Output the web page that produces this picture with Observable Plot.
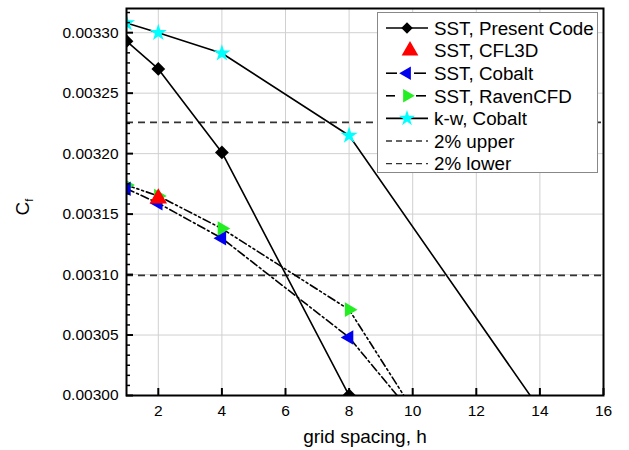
<!DOCTYPE html>
<html><head><meta charset="utf-8">
<script src="https://cdn.jsdelivr.net/npm/d3@7"></script>
<script src="https://cdn.jsdelivr.net/npm/@observablehq/plot@0.6"></script>
<style>
body{margin:0;background:#fff;}
#chart{width:629px;height:450px;}
</style>
</head><body><div id="chart"></div>
<script>
// ---- data ----
const hAll = [1, 2, 4, 8, 16];
const hPresent = [1, 2, 4, 8];
const sstPresent = [0.003293, 0.003270, 0.003201, 0.003000];
const hCFL3D = [2];
const sstCFL3D = [0.003163];
const sstCobalt = [0.003171, 0.003159, 0.003130, 0.003048, 0.002794];
const sstRaven = [0.003174, 0.003165, 0.003138, 0.003071, 0.002741];
const kwCobalt = [0.003308, 0.003300, 0.003283, 0.003215, 0.002913];
const bandUpper = 0.0032258;
const bandLower = 0.0030993;
const xTicks = [2, 4, 6, 8, 10, 12, 14, 16];
const yTicks = [0.00300, 0.00305, 0.00310, 0.00315, 0.00320, 0.00325, 0.00330];
const legendNames = ["SST, Present Code", "SST, CFL3D", "SST, Cobalt", "SST, RavenCFD", "k-w, Cobalt", "2% upper", "2% lower"];
const xLabel = "grid spacing, h";

// ---- build tables ----
const rows = (xs, ys) => xs.map((x, i) => ({x, y: ys[i]}));
const present = rows(hPresent, sstPresent);
const cfl3d = rows(hCFL3D, sstCFL3D);
const cobalt = rows(hAll, sstCobalt);
const raven = rows(hAll, sstRaven);
const kw = rows(hAll, kwCobalt);

// minor y ticks: 5 between each major
const yMinor = [];
for (let i = 0; i < yTicks.length - 1; i++) {
  for (let k = 1; k < 6; k++) yMinor.push(yTicks[i] + (yTicks[i+1] - yTicks[i]) * k / 6);
}
yMinor.push(yTicks[yTicks.length-1] + (yTicks[1]-yTicks[0]) / 6 * 1);
yMinor.push(yTicks[yTicks.length-1] + (yTicks[1]-yTicks[0]) / 6 * 2);

const font = "'Liberation Sans', Arial, sans-serif";
const dashDot = "8,3,2,3";
const dashDotDot = "8,3,2,3,2,3";

const plot = Plot.plot({
  width: 629, height: 450,
  marginLeft: 126, marginRight: 26, marginTop: 8, marginBottom: 55,
  style: {fontFamily: font, background: "#fff", color: "#000"},
  x: {domain: [1, 16]},
  y: {domain: [0.0030, 0.00332]},
  marks: [
    Plot.gridX(xTicks, {stroke: "#d0d0d0", strokeOpacity: 1, strokeWidth: 1}),
    Plot.gridY(yTicks, {stroke: "#d0d0d0", strokeOpacity: 1, strokeWidth: 1}),
    Plot.ruleY([bandUpper, bandLower], {stroke: "#333", strokeWidth: 1.6, strokeDasharray: "7,5"}),
    Plot.line(present, {x: "x", y: "y", stroke: "#000", strokeWidth: 1.6, clip: true}),
    Plot.line(kw, {x: "x", y: "y", stroke: "#000", strokeWidth: 1.6, clip: true}),
    Plot.line(cobalt, {x: "x", y: "y", stroke: "#000", strokeWidth: 1.6, strokeDasharray: dashDot, clip: true}),
    Plot.line(raven, {x: "x", y: "y", stroke: "#000", strokeWidth: 1.6, strokeDasharray: dashDotDot, clip: true}),
    Plot.dot(present, {x: "x", y: "y", symbol: "diamond2", r: 6.2, fill: "#000", stroke: "none", clip: true}),
    Plot.dot(kw, {x: "x", y: "y", symbol: "star", r: 5.4, fill: "#00ffff", stroke: "none", clip: true}),
    Plot.dot(raven, {x: "x", y: "y", symbol: "triangle", rotate: 90, r: 5.4, fill: "#22ee22", stroke: "none", clip: true}),
    Plot.dot(cobalt, {x: "x", y: "y", symbol: "triangle", rotate: -90, r: 5.4, fill: "#0000ee", stroke: "none", clip: true}),
    Plot.dot(cfl3d, {x: "x", y: "y", symbol: "triangle", r: 6.5, fill: "#ff0000", stroke: "none", clip: true}),
    // axes
    Plot.axisY(yTicks, {tickSize: 0, tickPadding: 8, tickFormat: d3.format(".5f"), fontSize: 15.5, label: null}),
    Plot.axisY(yTicks, {tickSize: -7, tickFormat: () => "", label: null, strokeWidth: 2}),
    Plot.axisY(yMinor.filter(v => v <= 0.00332), {tickSize: -4, tickFormat: () => "", label: null, strokeWidth: 1.5}),
    Plot.axisX(xTicks, {tickSize: 0, tickPadding: 9, fontSize: 15.5, label: null}),
    Plot.axisX(xTicks, {tickSize: -7, tickFormat: () => "", label: null, strokeWidth: 2}),
    Plot.frame({stroke: "#000", strokeWidth: 2})
  ]
});
document.getElementById("chart").appendChild(plot);

// ---- labels and legend (real text, drawn in the same SVG) ----
const svg = d3.select(plot);
svg.append("text")
  .attr("x", 365).attr("y", 443).attr("text-anchor", "middle")
  .style("font-family", font).style("font-size", "19px").attr("fill", "#000")
  .text(xLabel);
const yl = svg.append("text")
  .attr("transform", "translate(29,207) rotate(-90)")
  .attr("text-anchor", "middle")
  .style("font-family", font).style("font-size", "19px").attr("fill", "#000");
yl.append("tspan").text("C");
yl.append("tspan").attr("dy", 4).style("font-size", "11px").text("f");

const legendSpec = [
  {name: legendNames[0], line: "solid", sym: d3.symbolDiamond2, r: 5.2, rot: 0, fill: "#000"},
  {name: legendNames[1], line: null, sym: d3.symbolTriangle, r: 6.2, rot: 0, fill: "#ff0000"},
  {name: legendNames[2], line: "dash", sym: d3.symbolTriangle, r: 5, rot: -90, fill: "#0000ee"},
  {name: legendNames[3], line: "dash2", sym: d3.symbolTriangle, r: 5, rot: 90, fill: "#22ee22"},
  {name: legendNames[4], line: "solid", sym: d3.symbolStar, r: 5, rot: 0, fill: "#00ffff"},
  {name: legendNames[5], line: "dashed", sym: null},
  {name: legendNames[6], line: "dashed", sym: null}
];
const lg = svg.append("g");
lg.append("rect").attr("x", 377.5).attr("y", 12.5).attr("width", 220).attr("height", 160)
  .attr("fill", "#fff").attr("stroke", "#888").attr("stroke-width", 1);
legendSpec.forEach((d, i) => {
  const cy = 28 + i * 22.6;
  const g = lg.append("g");
  if (d.line === "solid") {
    g.append("line").attr("x1", 386).attr("x2", 428).attr("y1", cy).attr("y2", cy).attr("stroke", "#000").attr("stroke-width", 1.6);
  } else if (d.line === "dash") {
    g.append("line").attr("x1", 386).attr("x2", 397).attr("y1", cy).attr("y2", cy).attr("stroke", "#000").attr("stroke-width", 1.6);
    g.append("line").attr("x1", 414).attr("x2", 426).attr("y1", cy).attr("y2", cy).attr("stroke", "#000").attr("stroke-width", 1.6);
  } else if (d.line === "dash2") {
    g.append("line").attr("x1", 386).attr("x2", 395).attr("y1", cy).attr("y2", cy).attr("stroke", "#000").attr("stroke-width", 1.6);
    g.append("line").attr("x1", 416).attr("x2", 426).attr("y1", cy).attr("y2", cy).attr("stroke", "#000").attr("stroke-width", 1.6);
  } else if (d.line === "dashed") {
    g.append("line").attr("x1", 386).attr("x2", 428).attr("y1", cy).attr("y2", cy).attr("stroke", "#333").attr("stroke-width", 1.3).attr("stroke-dasharray", "6,4");
  }
  if (d.sym) {
    g.append("path").attr("d", d3.symbol(d.sym, Math.PI * d.r * d.r)())
      .attr("transform", `translate(${d.name === legendNames[1] ? 410 : 407},${cy}) rotate(${d.rot})`)
      .attr("fill", d.fill);
  }
  g.append("text").attr("x", 434).attr("y", cy).attr("dy", "0.36em")
    .attr("text-anchor", "start")
    .style("font-family", font).style("font-size", "18.8px").attr("fill", "#000").text(d.name);
});
</script>
</body></html>
